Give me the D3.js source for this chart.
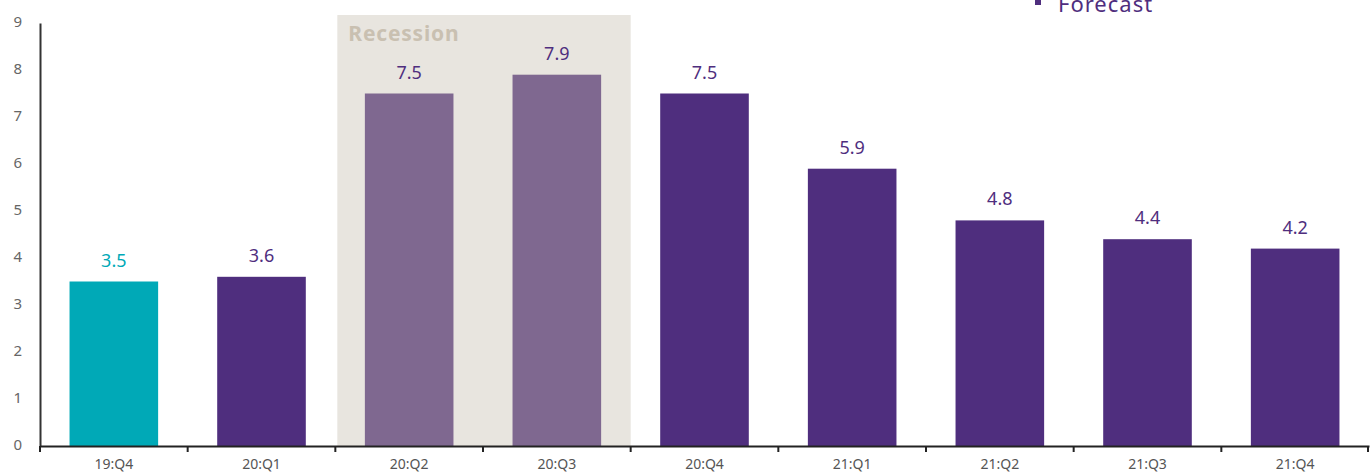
<!DOCTYPE html>
<html>
<head>
<meta charset="utf-8">
<script src="https://cdn.jsdelivr.net/npm/d3@7"></script>
<style>
  body { margin: 0; background: #fff; }
  text { font-family: "Noto Sans", Lato, sans-serif; }
</style>
</head>
<body>
<div id="chart"></div>
<script>
'use strict';

// quarters and unemployment values
const quarters = ["19:Q4", "20:Q1", "20:Q2", "20:Q3", "20:Q4", "21:Q1", "21:Q2", "21:Q3", "21:Q4"];
const values = [3.5, 3.6, 7.5, 7.9, 7.5, 5.9, 4.8, 4.4, 4.2];
const kinds = ["actual", "forecast", "recession", "recession", "forecast", "forecast", "forecast", "forecast", "forecast"];
const recessionQuarters = ["20:Q2", "20:Q3"];
const yTicks = [0, 1, 2, 3, 4, 5, 6, 7, 8, 9];

const width = 1371, height = 473;
const margin = { left: 40, right: 2, top: 23, bottom: 27 };

const colors = { actual: "#00a9b7", forecast: "#4f2e7e", recession: "#7f6890" };

let svg = d3.select("#chart").append("svg")
    .attr("width", width)
    .attr("height", height);

let x = d3.scaleBand()
    .domain(quarters)
    .range([margin.left, width - margin.right])
    .paddingInner(0.4)
    .paddingOuter(0.2);

let y = d3.scaleLinear()
    .domain([0, 9])
    .range([height - margin.bottom, margin.top]);

// recession shading
let rx0 = x(recessionQuarters[0]) - x.step() * x.paddingInner() / 2;
let rx1 = x(recessionQuarters[1]) + x.bandwidth() + x.step() * x.paddingInner() / 2;
svg.append("rect")
    .attr("x", rx0 + 2)
    .attr("y", y(9.17))
    .attr("width", rx1 - rx0 - 2)
    .attr("height", y(0) - y(9.17))
    .attr("fill", "#e8e5df");
svg.append("text")
    .attr("x", rx0 + 13)
    .attr("y", 41)
    .attr("fill", "#c9c0b1")
    .attr("font-size", 21)
    .attr("letter-spacing", 0.8)
    .attr("font-weight", "bold")
    .text("Recession");

// bars
let data = quarters.map((q, i) => ({ q: q, v: values[i], k: kinds[i] }));
svg.selectAll("rect.bar")
    .data(data)
    .enter()
    .append("rect")
    .classed("bar", true)
    .attr("x", d => x(d.q))
    .attr("y", d => y(d.v))
    .attr("width", x.bandwidth())
    .attr("height", d => y(0) - y(d.v))
    .attr("fill", d => colors[d.k]);

// value labels
svg.selectAll("text.val")
    .data(data)
    .enter()
    .append("text")
    .classed("val", true)
    .attr("x", d => x(d.q) + x.bandwidth() / 2)
    .attr("y", d => y(d.v) - 15)
    .attr("text-anchor", "middle")
    .attr("font-size", 18)
    .attr("fill", d => d.k === "actual" ? colors.actual : colors.forecast)
    .text(d => d.v.toFixed(1));

// y axis
let yAxis = svg.append("g")
    .attr("transform", "translate(" + margin.left + ",0)")
    .call(d3.axisLeft(y).tickValues(yTicks).tickSize(0).tickPadding(18));
yAxis.select(".domain").attr("stroke", "#333").attr("stroke-width", 2);
yAxis.selectAll("text").attr("font-size", 15).attr("fill", "#666").attr("dy", "0.2em");

// x axis
let xAxis = svg.append("g")
    .attr("transform", "translate(0," + y(0) + ")")
    .call(d3.axisBottom(x).tickSize(0).tickPadding(13));
xAxis.select(".domain").attr("stroke", "#222").attr("stroke-width", 2);
xAxis.selectAll("text").attr("font-size", 14).attr("fill", "#555");
// tick marks at band boundaries
let edges = quarters.map(q => x(q) - x.step() * x.paddingInner() / 2);
edges[0] = margin.left;
edges.push(width - margin.right - 1);
xAxis.selectAll("line.edge")
    .data(edges)
    .enter()
    .append("line")
    .classed("edge", true)
    .attr("x1", d => d).attr("x2", d => d)
    .attr("y1", 0).attr("y2", 6)
    .attr("stroke", "#222")
    .attr("stroke-width", 2);

// legend (partially cut off at top)
svg.append("rect")
    .attr("x", 1035).attr("y", -1)
    .attr("width", 6).attr("height", 6)
    .attr("fill", colors.forecast);
svg.append("text")
    .attr("x", 1058).attr("y", 12)
    .attr("font-size", 22)
    .attr("letter-spacing", 1)
    .attr("fill", colors.forecast)
    .text("Forecast");
</script>
</body>
</html>
